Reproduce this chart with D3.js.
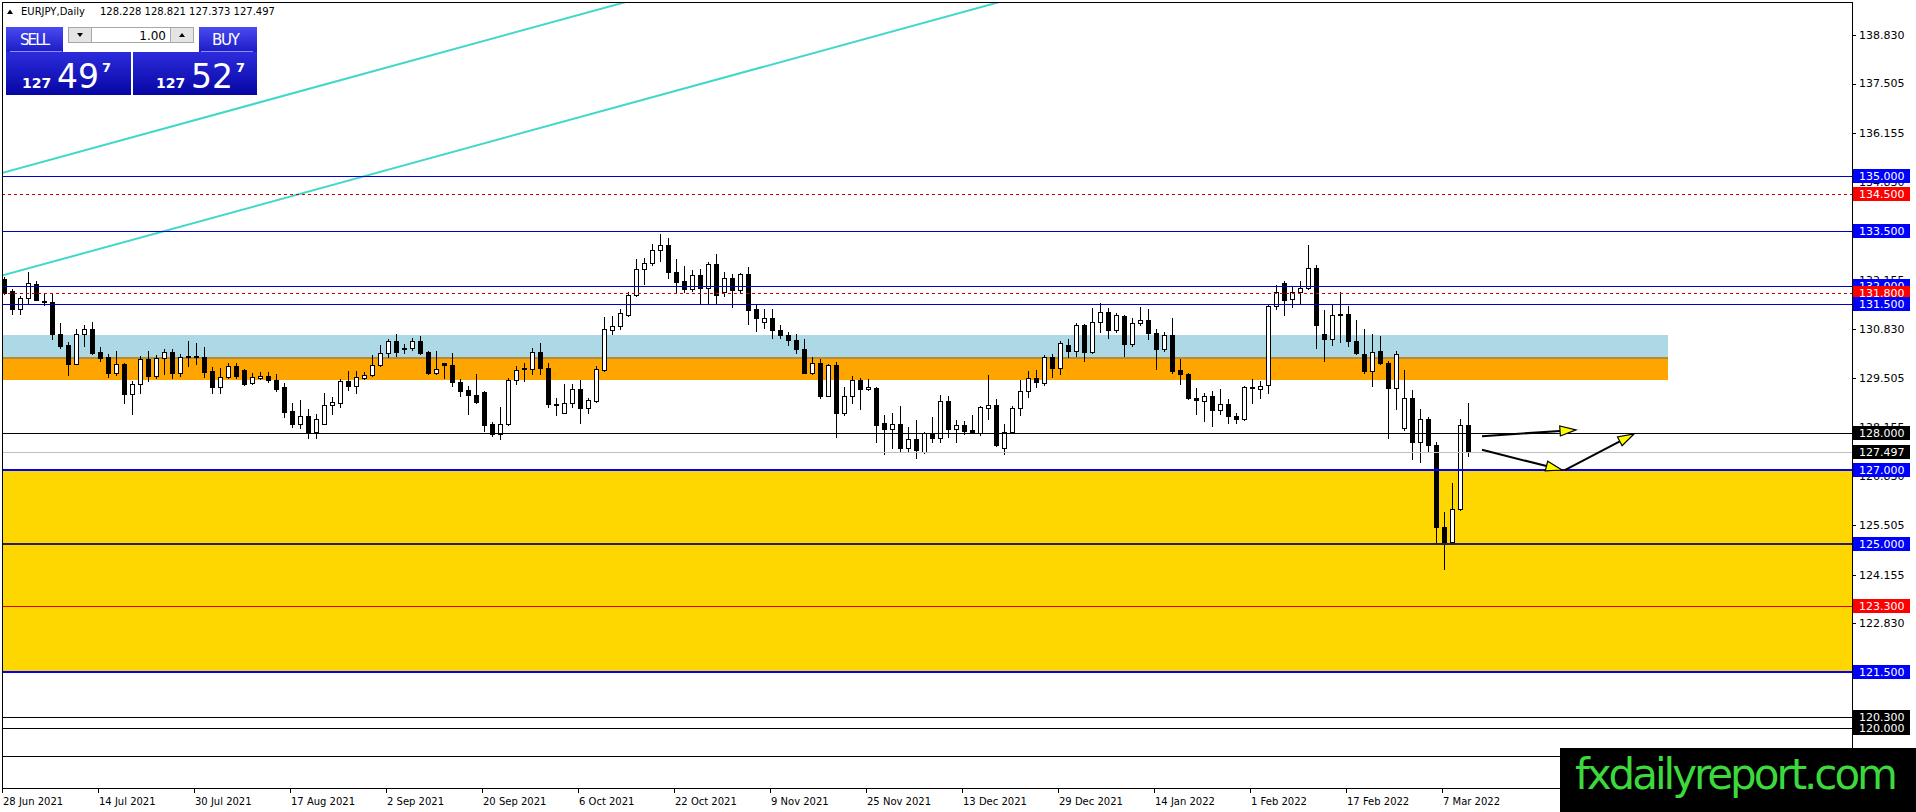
<!DOCTYPE html>
<html><head><meta charset="utf-8">
<script src="https://cdn.jsdelivr.net/npm/d3@7"></script>
<style>
html,body{margin:0;padding:0;background:#fff;overflow:hidden}
svg{display:block}
text{font-family:"DejaVu Sans",sans-serif}
</style></head><body>
<svg id="chart" width="1916" height="812"></svg>
<script>
// ================= DATA =================
const symbolTitle = "EURJPY,Daily";
const headerOHLC = ["128.228", "128.821", "127.373", "127.497"];

const opens = [132.18,131.86,131.39,131.67,132.06,131.59,131.57,130.71,130.40,129.89,
130.71,130.82,130.21,130.07,129.65,129.87,129.06,129.35,130.01,129.56,
130.04,130.21,129.65,130.10,130.10,130.07,129.69,129.27,129.53,129.83,
129.71,129.36,129.49,129.56,129.45,129.27,128.61,128.24,128.47,128.04,
128.26,128.76,128.81,129.42,129.29,129.49,129.57,129.85,130.17,130.51,
130.33,130.31,130.51,130.21,129.65,129.90,129.86,129.39,129.17,129.04,
129.12,128.24,127.97,128.24,129.45,129.76,129.74,130.21,129.77,128.80,
128.56,128.83,129.20,128.68,128.88,129.72,130.81,130.92,131.22,131.76,
132.46,132.64,132.98,133.12,132.39,132.14,131.91,132.30,131.96,132.60,
131.85,132.22,131.90,132.33,131.37,131.03,131.13,130.80,130.68,130.53,
130.29,129.65,129.90,129.02,129.85,128.54,129.00,129.44,129.20,129.24,
128.27,128.11,128.24,127.59,127.84,127.50,127.99,127.86,128.88,128.11,
128.22,128.08,128.01,128.69,128.76,127.60,128.04,128.69,129.15,129.51,
129.36,130.08,129.76,130.41,130.24,130.95,130.22,131.02,131.29,130.81,
131.18,130.42,130.99,131.08,130.72,130.29,130.67,129.71,129.60,128.97,
128.88,129.00,128.62,128.79,128.48,128.38,129.25,129.19,129.30,131.47,
132.09,131.64,131.85,131.95,132.50,130.70,130.56,131.24,131.24,130.50,
130.15,129.68,130.24,129.92,129.22,128.13,128.95,127.77,128.38,127.67,
125.46,125.05,125.93,128.228];

const highs = [132.24,131.91,131.73,132.38,132.15,131.80,131.80,130.99,130.48,130.82,
130.94,131.02,130.34,130.14,130.24,129.92,129.42,130.10,130.24,130.13,
130.28,130.28,130.14,130.51,130.45,130.35,129.80,129.78,129.92,129.90,
129.74,129.65,129.67,129.67,129.62,129.36,128.81,128.90,128.65,128.52,
129.09,128.99,129.47,129.69,129.69,129.67,130.13,130.40,130.55,130.69,
130.42,130.60,130.64,130.24,130.24,129.91,130.17,129.47,129.29,129.60,
129.15,128.30,128.70,129.49,129.83,129.92,130.33,130.44,129.92,128.97,
129.33,129.33,129.45,128.97,129.83,131.17,131.19,131.39,131.83,132.73,
132.76,133.14,133.41,133.31,132.73,132.54,132.44,132.46,132.66,132.87,
132.39,132.33,132.35,132.53,131.51,131.37,131.37,130.94,130.74,130.69,
130.56,130.06,130.03,129.88,129.94,129.27,129.56,129.51,129.47,129.26,
128.49,128.54,128.74,128.17,128.36,128.04,128.43,129.03,129.02,128.36,
128.34,128.49,128.74,129.59,128.92,128.24,128.74,129.45,129.70,129.71,
130.12,130.15,130.52,130.56,131.00,130.97,131.41,131.54,131.40,131.27,
131.22,131.13,131.43,131.38,130.82,130.76,131.13,130.03,129.65,129.24,
129.08,129.15,129.19,128.94,128.56,129.29,129.47,129.42,131.49,132.02,
132.15,132.00,132.13,133.11,132.58,131.34,131.52,131.85,131.45,131.09,
130.83,130.70,130.65,129.97,130.24,129.72,129.18,128.67,128.45,127.76,
125.87,126.64,128.39,128.821];

const lows = [131.79,131.23,131.23,131.53,131.61,131.48,130.55,130.33,129.57,129.87,
130.37,130.14,129.95,129.54,129.58,128.83,128.53,129.10,129.42,129.51,
129.62,129.49,129.56,129.83,129.87,129.53,129.10,129.08,129.49,129.51,
129.31,129.33,129.47,129.40,129.15,128.43,128.18,128.15,127.88,127.88,
128.24,128.53,128.70,129.17,129.08,129.47,129.56,129.83,130.08,130.10,
130.19,130.26,130.14,129.60,129.62,129.51,129.29,129.00,128.53,128.83,
128.06,127.92,127.85,128.22,129.33,129.42,129.61,129.61,128.70,128.49,
128.54,128.70,128.27,128.56,128.86,129.70,130.69,130.83,131.19,131.74,
132.05,132.57,132.67,132.22,131.85,131.83,131.87,131.51,131.51,131.54,
131.72,131.42,131.83,130.96,130.77,130.85,130.60,130.58,130.39,130.18,
129.63,129.61,128.97,129.00,127.91,128.50,128.83,128.65,129.18,127.75,
127.43,127.59,127.52,127.52,127.32,127.47,127.75,127.76,127.91,127.75,
127.97,128.00,127.94,128.39,127.65,127.44,128.01,128.49,128.99,129.27,
129.30,129.54,129.60,130.06,130.11,129.97,130.18,130.76,130.58,130.76,
130.09,130.36,130.93,130.56,129.74,130.24,129.65,129.33,128.92,128.51,
128.33,128.19,128.51,128.28,128.28,128.36,128.81,128.97,129.10,131.38,
131.22,131.43,131.54,131.93,130.33,129.97,130.40,130.49,130.36,130.15,
129.65,129.29,129.88,127.86,128.65,128.10,127.30,127.21,127.53,125.02,
124.32,125.02,125.92,127.373];

const closes = [131.82,131.39,131.67,132.07,131.63,131.56,130.71,130.37,129.89,130.71,
130.82,130.17,130.05,129.65,129.87,129.06,129.35,130.01,129.56,130.04,
130.21,129.65,130.08,130.06,130.06,129.67,129.27,129.53,129.83,129.56,
129.35,129.53,129.56,129.44,129.21,128.59,128.24,128.47,128.02,128.38,
128.77,128.85,129.42,129.29,129.53,129.58,129.85,130.17,130.51,130.22,
130.28,130.51,130.19,129.65,129.74,129.85,129.38,129.15,129.03,128.86,
128.22,127.97,128.24,129.45,129.72,129.77,130.21,129.76,128.79,128.77,
128.83,129.20,128.68,128.91,129.74,130.83,130.92,131.27,131.76,132.46,
132.64,132.98,133.12,132.37,132.10,131.91,132.30,131.96,132.60,131.76,
132.22,131.90,132.33,131.36,131.12,131.12,130.80,130.67,130.53,130.29,
129.65,129.90,129.02,129.85,128.54,129.00,129.44,129.20,129.26,128.23,
128.11,128.24,127.59,127.84,127.55,128.00,127.86,128.88,128.11,128.22,
128.06,128.02,128.71,128.76,127.69,128.04,128.69,129.15,129.51,129.40,
130.08,129.76,130.44,130.24,130.95,130.22,131.02,131.29,130.81,131.22,
130.42,131.00,131.08,130.72,130.29,130.67,129.70,129.60,128.97,128.89,
129.00,128.62,128.79,128.48,128.38,129.25,129.22,129.29,131.47,131.85,
131.61,131.85,131.95,132.50,130.94,130.56,131.22,131.22,130.50,130.17,
129.68,130.22,129.90,129.22,130.15,128.95,127.77,128.38,127.67,125.44,
125.05,125.93,128.21,127.497];

const xTickBars = [0, 12, 24, 36, 48, 60, 72, 84, 96, 108, 120, 132, 144, 156, 168, 180];
const xTickLabels = ["28 Jun 2021","14 Jul 2021","30 Jul 2021","17 Aug 2021","2 Sep 2021",
  "20 Sep 2021","6 Oct 2021","22 Oct 2021","9 Nov 2021","25 Nov 2021","13 Dec 2021",
  "29 Dec 2021","14 Jan 2022","1 Feb 2022","17 Feb 2022","7 Mar 2022"];

// visible price-scale ticks (others are covered by level tags / watermark)
const yTickValues = [138.830, 137.505, 136.155, 134.830, 132.155, 130.830, 129.505,
  128.155, 126.830, 125.505, 124.155, 122.830];

const levelPrices = [135.000, 134.500, 133.500, 132.000, 131.800, 131.500, 128.000,
  127.000, 125.000, 123.300, 121.500, 120.300, 120.000, 119.230];

const bidPrice = 127.497;
const askPrice = 127.527;
const lotSize = "1.00";

const zoneYellow = [121.5, 127.0];
const zoneLightBlue = [130.05, 130.67];
const zoneOrange = [129.46, 130.05];
const zoneBars = [-10, 208];
const yellowBars = [-10, 260];

const trendLine1 = [[-1, 135.03], [95, 140.75]];
const trendLine2 = [[-1, 132.24], [135, 140.35]];

const arrow1 = [[184.75, 127.92], [196.5, 128.09]];
const arrow2 = [[184.75, 127.55], [194.75, 127.00]];
const arrow3 = [[195.1, 127.00], [203.75, 127.98]];

const watermarkText = "fxdailyreport.com";

// ================= STYLES (not data) =================
const levelStyles = {
  "135.000": {c: "#0000c8", w: 1, box: "#0000ff"},
  "134.500": {c: "#d00000", w: 1, dash: "3,3", box: "#ff0000"},
  "133.500": {c: "#0000c8", w: 1, box: "#0000ff"},
  "132.000": {c: "#0000c8", w: 1, box: "#0000ff"},
  "131.800": {c: "#d00000", w: 1, dash: "3,3", box: "#ff0000"},
  "131.500": {c: "#0000c8", w: 1, box: "#0000ff"},
  "128.000": {c: "#000000", w: 1, box: "#000000"},
  "127.000": {c: "#0000ff", w: 2, box: "#0000ff"},
  "125.000": {c: "#2a2050", w: 2, box: "#0000ff"},
  "123.300": {c: "#e00000", w: 1, box: "#ff0000"},
  "121.500": {c: "#0000ff", w: 2, box: "#0000ff"},
  "120.300": {c: "#000000", w: 1, box: "#000000"},
  "120.000": {c: "#000000", w: 1, box: "#000000"},
  "119.230": {c: "#000000", w: 1, box: "#000000"}
};

// ================= CHART =================
const svg = d3.select("#chart");
const plot = {left: 2, top: 2, right: 1852, bottom: 788};
const wmTop = 748;
const x = d3.scaleLinear().domain([0, 231]).range([4, 1852]);
const y = d3.scaleLinear().domain([139.721, 118.357]).range([2, 788]);

svg.append("rect").attr("width", 1916).attr("height", 812).attr("fill", "#fff");

const defs = svg.append("defs");
defs.append("clipPath").attr("id", "plotClip").append("rect")
  .attr("x", plot.left).attr("y", plot.top)
  .attr("width", plot.right - plot.left).attr("height", plot.bottom - plot.top);
const gBtn = defs.append("linearGradient").attr("id", "gBtn").attr("x1", 0).attr("x2", 0).attr("y1", 0).attr("y2", 1);
gBtn.append("stop").attr("offset", "0%").attr("stop-color", "#4a4af0");
gBtn.append("stop").attr("offset", "100%").attr("stop-color", "#1c1cc8");
const gPrice = defs.append("linearGradient").attr("id", "gPrice").attr("x1", 0).attr("x2", 0).attr("y1", 0).attr("y2", 1);
gPrice.append("stop").attr("offset", "0%").attr("stop-color", "#2c2cdc");
gPrice.append("stop").attr("offset", "100%").attr("stop-color", "#0606a4");

const pg = svg.append("g").attr("clip-path", "url(#plotClip)").attr("shape-rendering", "crispEdges");

function zone(bars, prices, fill) {
  pg.append("rect")
    .attr("x", x(bars[0])).attr("width", x(bars[1]) - x(bars[0]))
    .attr("y", Math.round(y(prices[1]))).attr("height", Math.round(y(prices[0])) - Math.round(y(prices[1])))
    .attr("fill", fill);
}
zone(yellowBars, zoneYellow, "#ffd700");
zone(zoneBars, zoneLightBlue, "#add8e6");
zone(zoneBars, zoneOrange, "#ffa500");
pg.append("rect").attr("x", x(zoneBars[0])).attr("width", x(zoneBars[1]) - x(zoneBars[0]))
  .attr("y", Math.round(y(zoneOrange[1])) - 1).attr("height", 2).attr("fill", "#b48a3c");

// trend lines
[trendLine1, trendLine2].forEach(tl => {
  pg.append("line")
    .attr("x1", x(tl[0][0])).attr("y1", y(tl[0][1]))
    .attr("x2", x(tl[1][0])).attr("y2", y(tl[1][1]))
    .attr("stroke", "#40d8c8").attr("stroke-width", 2).attr("shape-rendering", "auto");
});

// candles
const bars = opens.map((o, i) => ({i, o, h: highs[i], l: lows[i], c: closes[i]}));
const cg = pg.append("g");
cg.selectAll("line.wick").data(bars).join("line").attr("class", "wick")
  .attr("x1", d => Math.round(x(d.i)) + 0.5).attr("x2", d => Math.round(x(d.i)) + 0.5)
  .attr("y1", d => Math.round(y(d.h))).attr("y2", d => Math.round(y(d.l)) + 1)
  .attr("stroke", "#000").attr("stroke-width", 1);
cg.selectAll("rect.bear").data(bars.filter(d => d.c < d.o)).join("rect").attr("class", "bear")
  .attr("x", d => Math.round(x(d.i)) - 2).attr("width", 5)
  .attr("y", d => Math.round(y(d.o)))
  .attr("height", d => Math.max(1, Math.round(y(d.c)) - Math.round(y(d.o)) + 1))
  .attr("fill", "#000");
cg.selectAll("rect.bull").data(bars.filter(d => d.c >= d.o)).join("rect").attr("class", "bull")
  .attr("x", d => Math.round(x(d.i)) - 1.5).attr("width", 4)
  .attr("y", d => Math.round(y(d.c)) + 0.5)
  .attr("height", d => Math.max(1, Math.round(y(d.o)) - Math.round(y(d.c))))
  .attr("fill", "#fff").attr("stroke", "#000").attr("stroke-width", 1);

// horizontal levels
levelPrices.forEach(p => {
  const st = levelStyles[p.toFixed(3)];
  const yy = st.w === 2 ? Math.round(y(p)) : Math.round(y(p)) + 0.5;
  const ln = pg.append("line").attr("x1", plot.left).attr("x2", plot.right)
    .attr("y1", yy).attr("y2", yy).attr("stroke", st.c).attr("stroke-width", st.w);
  if (st.dash) ln.attr("stroke-dasharray", st.dash);
});
// bid line
pg.append("line").attr("x1", plot.left).attr("x2", plot.right)
  .attr("y1", Math.round(y(bidPrice)) + 0.5).attr("y2", Math.round(y(bidPrice)) + 0.5)
  .attr("stroke", "#c0c0c0");

// arrows
function arrow(a) {
  const x0 = x(a[0][0]), y0 = y(a[0][1]), x1 = x(a[1][0]), y1 = y(a[1][1]);
  const dx = x1 - x0, dy = y1 - y0, len = Math.hypot(dx, dy);
  const ux = dx / len, uy = dy / len, nx = -uy, ny = ux;
  const L = 16, Wd = 5;
  const bx = x1 - ux * L, by = y1 - uy * L;
  pg.append("line").attr("x1", x0).attr("y1", y0).attr("x2", bx).attr("y2", by)
    .attr("stroke", "#000").attr("stroke-width", 2).attr("shape-rendering", "auto");
  pg.append("path")
    .attr("d", `M${x1},${y1}L${bx + nx * Wd},${by + ny * Wd}L${bx - nx * Wd},${by - ny * Wd}Z`)
    .attr("fill", "#ffff00").attr("stroke", "#000").attr("stroke-width", 1.2).attr("shape-rendering", "auto");
}
[arrow1, arrow2, arrow3].forEach(arrow);

// frame
const fr = svg.append("g").attr("shape-rendering", "crispEdges").attr("stroke", "#000");
fr.append("line").attr("x1", plot.left + 0.5).attr("x2", plot.left + 0.5).attr("y1", plot.top).attr("y2", plot.bottom);
fr.append("line").attr("x1", plot.left).attr("x2", plot.right).attr("y1", plot.top + 0.5).attr("y2", plot.top + 0.5);
fr.append("line").attr("x1", plot.left).attr("x2", plot.right + 1).attr("y1", plot.bottom + 0.5).attr("y2", plot.bottom + 0.5);
fr.append("line").attr("x1", plot.right + 0.5).attr("x2", plot.right + 0.5).attr("y1", plot.top).attr("y2", plot.bottom);

// y axis ticks
const ya = svg.append("g");
yTickValues.forEach(v => {
  const yy = Math.round(y(v)) + 0.5;
  ya.append("line").attr("x1", plot.right).attr("x2", plot.right + 4).attr("y1", yy).attr("y2", yy)
    .attr("stroke", "#000").attr("shape-rendering", "crispEdges");
  ya.append("text").attr("x", plot.right + 7).attr("y", y(v)).attr("dy", "0.36em")
    .attr("font-size", 11).attr("fill", "#000").text(v.toFixed(3));
});

// level labels (descending); tags hidden behind the watermark are skipped
const labelList = levelPrices.map(p => ({p, box: levelStyles[p.toFixed(3)].box}));
labelList.push({p: bidPrice, box: "#000000"});
labelList.sort((a, b) => b.p - a.p);
const la = svg.append("g");
labelList.filter(d => y(d.p) + 7 < wmTop).forEach(d => {
  const yy = Math.round(y(d.p));
  la.append("rect").attr("x", plot.right + 1).attr("y", yy - 7).attr("width", 57).attr("height", 14)
    .attr("fill", d.box).attr("shape-rendering", "crispEdges");
  la.append("text").attr("x", plot.right + 7).attr("y", yy).attr("dy", "0.36em")
    .attr("font-size", 11).attr("fill", "#fff").text(d.p.toFixed(3));
});

// x axis
const xa = svg.append("g");
xTickBars.forEach((b, k) => {
  const xx = Math.round(x(b)) - 2 + 0.5;
  xa.append("line").attr("x1", xx).attr("x2", xx).attr("y1", plot.bottom).attr("y2", plot.bottom + 5)
    .attr("stroke", "#000").attr("shape-rendering", "crispEdges");
  xa.append("text").attr("x", x(b) - 1).attr("y", 805).attr("font-size", 10).attr("fill", "#000").text(xTickLabels[k]);
});

// header
const hd = svg.append("g");
hd.append("path").attr("d", "M7,14L10,9.5L13,14Z").attr("fill", "#000");
hd.append("text").attr("x", 21).attr("y", 15).attr("font-size", 10).attr("fill", "#000").text(symbolTitle);
hd.append("text").attr("x", 100).attr("y", 15).attr("font-size", 10).attr("fill", "#000").text(headerOHLC.join(" "));

// one-click panel
const pn = svg.append("g").attr("shape-rendering", "crispEdges");
pn.append("rect").attr("x", 6).attr("y", 52).attr("width", 125).attr("height", 43).attr("fill", "url(#gPrice)");
pn.append("rect").attr("x", 133).attr("y", 52).attr("width", 124).attr("height", 43).attr("fill", "url(#gPrice)");
pn.append("rect").attr("x", 6).attr("y", 27).attr("width", 57).attr("height", 25).attr("fill", "url(#gBtn)");
pn.append("rect").attr("x", 199).attr("y", 27).attr("width", 58).attr("height", 25).attr("fill", "url(#gBtn)");
pn.append("line").attr("x1", 10).attr("x2", 62).attr("y1", 51.5).attr("y2", 51.5).attr("stroke", "#8c8cff");
pn.append("line").attr("x1", 201).attr("x2", 253).attr("y1", 51.5).attr("y2", 51.5).attr("stroke", "#8c8cff");
pn.append("rect").attr("x", 68.5).attr("y", 27.5).attr("width", 23).attr("height", 15).attr("fill", "#e4e4e4").attr("stroke", "#a8a8a8");
pn.append("rect").attr("x", 91.5).attr("y", 27.5).attr("width", 79).attr("height", 15).attr("fill", "#fff").attr("stroke", "#a8a8a8");
pn.append("rect").attr("x", 170.5).attr("y", 27.5).attr("width", 23).attr("height", 15).attr("fill", "#e4e4e4").attr("stroke", "#a8a8a8");
pn.append("path").attr("d", "M77,33L83,33L80,37Z").attr("fill", "#000").attr("shape-rendering", "auto");
pn.append("path").attr("d", "M179,37L185,37L182,33Z").attr("fill", "#000").attr("shape-rendering", "auto");
pn.append("text").attr("x", 166).attr("y", 40).attr("text-anchor", "end").attr("font-size", 12)
  .attr("font-family", "Liberation Sans").attr("fill", "#000").text(lotSize);
pn.append("text").attr("x", 35).attr("y", 45).attr("text-anchor", "middle").attr("font-size", 15)
  .attr("font-family", "Liberation Sans").attr("fill", "#fff").attr("textLength", 30).text("SELL");
pn.append("text").attr("x", 226).attr("y", 45).attr("text-anchor", "middle").attr("font-size", 15)
  .attr("font-family", "Liberation Sans").attr("fill", "#fff").attr("textLength", 28).text("BUY");
function priceBlock(v, x0) {
  const s = v.toFixed(3);
  pn.append("text").attr("x", x0).attr("y", 88).attr("font-size", 14).attr("font-weight", "bold")
    .attr("font-family", "Liberation Sans").attr("fill", "#fff").text(s.slice(0, 3));
  pn.append("text").attr("x", x0 + 35).attr("y", 88).attr("font-size", 33)
    .attr("font-family", "Liberation Sans").attr("fill", "#fff").text(s.slice(4, 6));
  pn.append("text").attr("x", x0 + 80).attr("y", 72).attr("font-size", 13).attr("font-weight", "bold")
    .attr("font-family", "Liberation Sans").attr("fill", "#fff").text(s.slice(6));
}
priceBlock(bidPrice, 22);
priceBlock(askPrice, 156);

// watermark
svg.append("rect").attr("x", 1560).attr("y", wmTop).attr("width", 356).attr("height", 64).attr("fill", "#000");
svg.append("text").attr("x", 1575).attr("y", 789).attr("font-size", 42).attr("font-family", "Liberation Sans")
  .attr("fill", "#3cd93c").attr("textLength", 323).text(watermarkText);
</script>
</body></html>
